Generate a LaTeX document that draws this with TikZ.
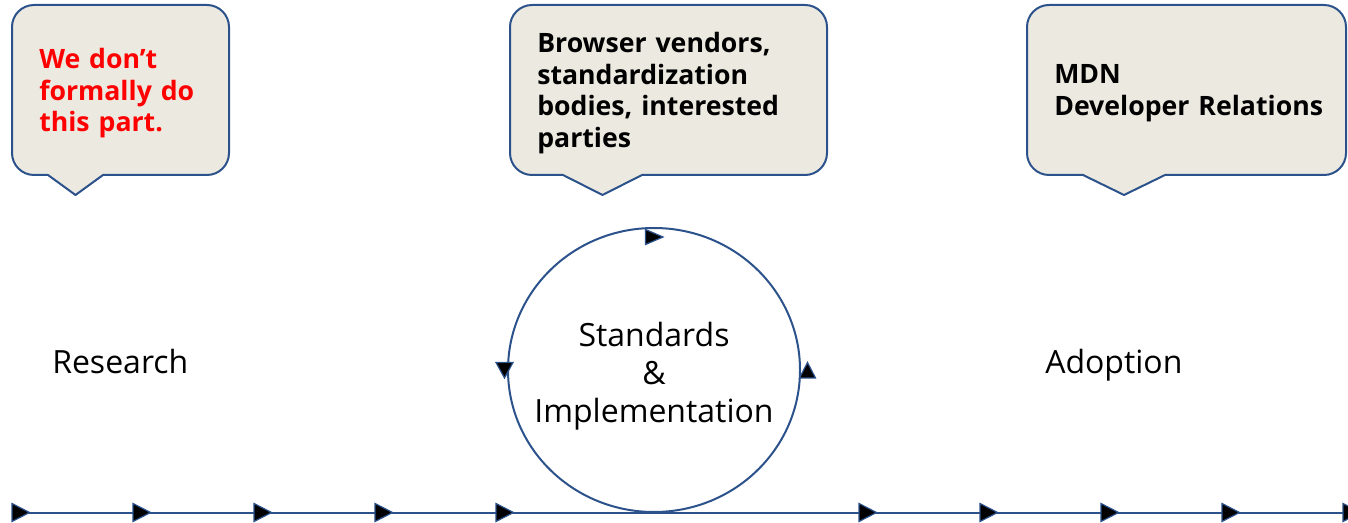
\documentclass[tikz,border=0pt]{standalone}
\usepackage{fontspec}
\setmainfont{Open Sans}
\usetikzlibrary{shapes.geometric}
\definecolor{bblue}{RGB}{44,82,140}
\definecolor{bfill}{RGB}{236,233,224}
\definecolor{bred}{RGB}{255,0,0}
\tikzset{
  bubbleline/.style={draw=bblue, fill=bfill, line width=1.5pt, line join=round},
  bubbletext/.style={inner xsep=20.25pt, inner ysep=0pt, minimum height=127.5pt, align=left, anchor=north west,
    font=\fontsize{20pt}{23.6pt}\selectfont\bfseries},
  ring/.style={ellipse, draw=bblue, line width=1.5pt, minimum width=219pt, minimum height=213pt, inner sep=0pt},
  bigtext/.style={font=\fontsize{24pt}{28.5pt}\selectfont, inner sep=0pt, align=center},
  marker/.style={fill=black, draw=bblue, line width=0.9pt, line join=miter},
  timeline/.style={draw=bblue, line width=1.5pt},
}
% #1 left x, #2 right x, #3 tail left x, #4 tail tip x, #5 tail right x
\newcommand\speechbubble[5]{%
  \draw[bubbleline] (#1+22,5) -- (#2-22,5)
    .. controls (#2-9.86,5) and (#2,14.86) .. (#2,27)
    -- (#2,153)
    .. controls (#2,165.14) and (#2-9.86,175) .. (#2-22,175)
    -- (#5,175) -- (#4,195) -- (#3,175)
    -- (#1+22,175)
    .. controls (#1+9.86,175) and (#1,165.14) .. (#1,153)
    -- (#1,27)
    .. controls (#1,14.86) and (#1+9.86,5) .. (#1+22,5) -- cycle;
}
\begin{document}
\begin{tikzpicture}[x=0.75pt, y=-0.75pt]
\clip (0,0) rectangle (1348,523);

% speech bubbles
\speechbubble{12}{229}{48}{75.5}{103}
\node[bubbletext, text width=122.25pt, text=bred] (b1) at (12,8) {We don’t\\formally do\\this part.};

\speechbubble{510}{827}{563}{602.5}{642}
\node[bubbletext, text width=197.25pt] (b2) at (510,8) {Browser vendors,\\standardization\\bodies, interested\\parties};

\speechbubble{1027}{1346}{1083}{1124}{1165}
\node[bubbletext, text width=230pt] (b3) at (1027,8) {MDN\\Developer Relations};

% stage labels
\node[bigtext, anchor=base west] (research) at (52,374) {Research};
\node[bigtext, anchor=base west] (adoption) at (1045,374) {Adoption};

% cycle
\node[ring] (cyc) at (654,370) {};
\node[bigtext] (sitext) at (654,376.5) {Standards\\\&\\Implementation};
\draw[marker] (645.5,229.5) -- (663,237) -- (645.5,244.5) -- cycle;
\draw[marker] (496,362.5) -- (513,362.5) -- (504.5,378) -- cycle;
\draw[marker] (799.5,378) -- (815.5,378) -- (807.5,362.5) -- cycle;

% timeline
\coordinate (tlstart) at (12,512.5);
\coordinate (tlend) at (1348,512.5);
\draw[timeline] (tlstart) -- (tlend);
\foreach \b in {12,133,254,375,496,859,980,1101,1222,1343}
  \draw[marker] (\b,503.5) -- (\b+17.5,512.5) -- (\b,521.5) -- cycle;
\end{tikzpicture}
\end{document}
